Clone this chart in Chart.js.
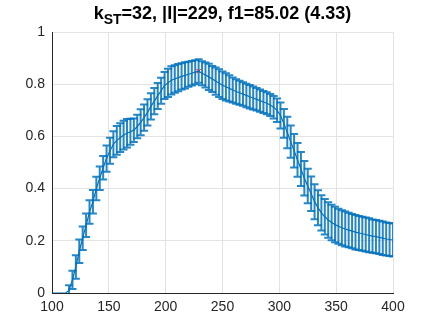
<!DOCTYPE html>
<html>
<head>
<meta charset="utf-8">
<script src="https://cdn.jsdelivr.net/npm/chart.js@4.4.1/dist/chart.umd.min.js"></script>
<style>
  html, body { margin: 0; padding: 0; background: #fff; }
  .wrap { position: relative; width: 429px; height: 323px; }
  .title {
    position: absolute; left: 52px; width: 341px; top: 3px;
    text-align: center; font: bold 18px "Liberation Sans", Arial, sans-serif;
    line-height: 20px; color: #000; white-space: nowrap;
  }
  .title sub { font-size: 14px; vertical-align: -5px; line-height: 0; }
  canvas { position: absolute; left: 0; top: 0; }
</style>
</head>
<body>
<div class="wrap">
  <canvas id="chart" width="429" height="323"></canvas>
  <div class="title">k<sub>ST</sub>=32, |I|=229, f1=85.02 (4.33)</div>
</div>
<script>
// ===== Data =====
const xs = [
  100, 103, 106, 109, 112, 115, 118, 121, 124, 127,
  130, 133, 136, 139, 142, 145, 148, 151, 154, 157,
  160, 163, 166, 169, 172, 175, 178, 181, 184, 187,
  190, 193, 196, 199, 202, 205, 208, 211, 214, 217,
  220, 223, 226, 229, 232, 235, 238, 241, 244, 247,
  250, 253, 256, 259, 262, 265, 268, 271, 274, 277,
  280, 283, 286, 289, 292, 295, 298, 301, 304, 307,
  310, 313, 316, 319, 322, 325, 328, 331, 334, 337,
  340, 343, 346, 349, 352, 355, 358, 361, 364, 367,
  370, 373, 376, 379, 382, 385, 388, 391, 394, 397,
  400
];

const means = [
  0, 0, 0, 0, 0, 0.01, 0.05, 0.10, 0.16, 0.21,
  0.26, 0.31, 0.35, 0.40, 0.44, 0.48, 0.515, 0.545, 0.57, 0.585,
  0.595, 0.605, 0.612, 0.618, 0.624, 0.638, 0.654, 0.672, 0.692, 0.715,
  0.735, 0.755, 0.775, 0.795, 0.805, 0.815, 0.82, 0.825, 0.83, 0.834,
  0.838, 0.842, 0.846, 0.8502, 0.842, 0.835, 0.828, 0.82, 0.812, 0.804,
  0.796, 0.79, 0.784, 0.778, 0.772, 0.767, 0.762, 0.757, 0.752, 0.747,
  0.742, 0.737, 0.732, 0.727, 0.72, 0.712, 0.70, 0.68, 0.65, 0.615,
  0.58, 0.545, 0.51, 0.475, 0.44, 0.41, 0.38, 0.35, 0.327, 0.307,
  0.292, 0.28, 0.27, 0.262, 0.256, 0.25, 0.245, 0.241, 0.237, 0.233,
  0.23, 0.227, 0.224, 0.221, 0.218, 0.216, 0.213, 0.21, 0.207, 0.205,
  0.203
];

const errs = [
  0, 0, 0, 0, 0, 0.02, 0.035, 0.045, 0.045, 0.045,
  0.045, 0.045, 0.045, 0.045, 0.045, 0.045, 0.05, 0.05, 0.05, 0.055,
  0.055, 0.055, 0.055, 0.05, 0.045, 0.045, 0.05, 0.05, 0.05, 0.05,
  0.05, 0.05, 0.05, 0.052, 0.054, 0.054, 0.053, 0.052, 0.05, 0.05,
  0.048, 0.047, 0.046, 0.045, 0.046, 0.048, 0.05, 0.05, 0.052, 0.053,
  0.053, 0.052, 0.05, 0.048, 0.047, 0.046, 0.045, 0.045, 0.045, 0.044,
  0.043, 0.043, 0.042, 0.042, 0.042, 0.043, 0.045, 0.05, 0.055, 0.06,
  0.062, 0.064, 0.065, 0.065, 0.066, 0.066, 0.066, 0.067, 0.067, 0.068,
  0.068, 0.068, 0.068, 0.068, 0.067, 0.067, 0.067, 0.066, 0.066, 0.066,
  0.065, 0.065, 0.065, 0.065, 0.064, 0.064, 0.064, 0.064, 0.063, 0.063,
  0.063
];

const bestX = [229];
const bestY = [0.8502];

const xTicks = [100, 150, 200, 250, 300, 350, 400];
const yTicks = [0, 0.2, 0.4, 0.6, 0.8, 1];

const BLUE = '#0072BD';
const AXIS = '#262626';
const GRID = '#e3e3e3';
const FONT = { family: '"Liberation Sans", Arial, sans-serif', size: 14 };

// ===== Error bars (drawn through the chart scales) =====
const errorBars = {
  id: 'errorBars',
  beforeDatasetsDraw(chart) {
    const { ctx, chartArea, scales: { x, y } } = chart;
    ctx.save();
    ctx.beginPath();
    ctx.rect(chartArea.left, chartArea.top, chartArea.right - chartArea.left, chartArea.bottom - chartArea.top);
    ctx.clip();
    ctx.strokeStyle = 'rgba(0, 114, 189, 0.85)';
    ctx.lineWidth = 2;
    const cap = 4;
    xs.forEach((xv, i) => {
      if (!errs[i]) return;
      const px = x.getPixelForValue(xv);
      const top = y.getPixelForValue(means[i] + errs[i]);
      const bot = y.getPixelForValue(means[i] - errs[i]);
      ctx.beginPath();
      ctx.moveTo(px, top);
      ctx.lineTo(px, bot);
      ctx.moveTo(px - cap, top);
      ctx.lineTo(px + cap, top);
      ctx.moveTo(px - cap, bot);
      ctx.lineTo(px + cap, bot);
      ctx.stroke();
    });
    ctx.restore();
  }
};

new Chart(document.getElementById('chart'), {
  type: 'line',
  data: {
    datasets: [
      {
        data: xs.map((v, i) => ({ x: v, y: means[i] })),
        borderColor: BLUE,
        borderWidth: 1.2,
        pointRadius: 0,
        tension: 0,
      },
      {
        data: bestX.map((v, i) => ({ x: v, y: bestY[i] })),
        showLine: false,
        pointStyle: 'crossRot',
        pointRadius: 3,
        borderColor: '#ff0000',
        borderWidth: 1,
      }
    ]
  },
  options: {
    responsive: false,
    animation: false,
    layout: { padding: { top: 32, right: 36, left: 0, bottom: 0 } },
    plugins: {
      legend: { display: false },
      tooltip: { enabled: false },
    },
    scales: {
      x: {
        type: 'linear',
        min: 100,
        max: 400,
        afterFit: s => { s.height = 30; },
        afterBuildTicks: s => { s.ticks = xTicks.map(v => ({ value: v })); },
        ticks: { color: AXIS, font: FONT, padding: 6, maxRotation: 0 },
        grid: { color: GRID, drawTicks: false },
        border: { color: AXIS, width: 1 },
      },
      y: {
        type: 'linear',
        min: 0,
        max: 1,
        afterFit: s => { s.width = 52; },
        afterBuildTicks: s => { s.ticks = yTicks.map(v => ({ value: v })); },
        ticks: { color: AXIS, font: FONT, padding: 7, callback: v => String(v) },
        grid: { color: GRID, drawTicks: false },
        border: { color: AXIS, width: 1 },
      }
    }
  },
  plugins: [errorBars]
});
</script>
</body>
</html>
